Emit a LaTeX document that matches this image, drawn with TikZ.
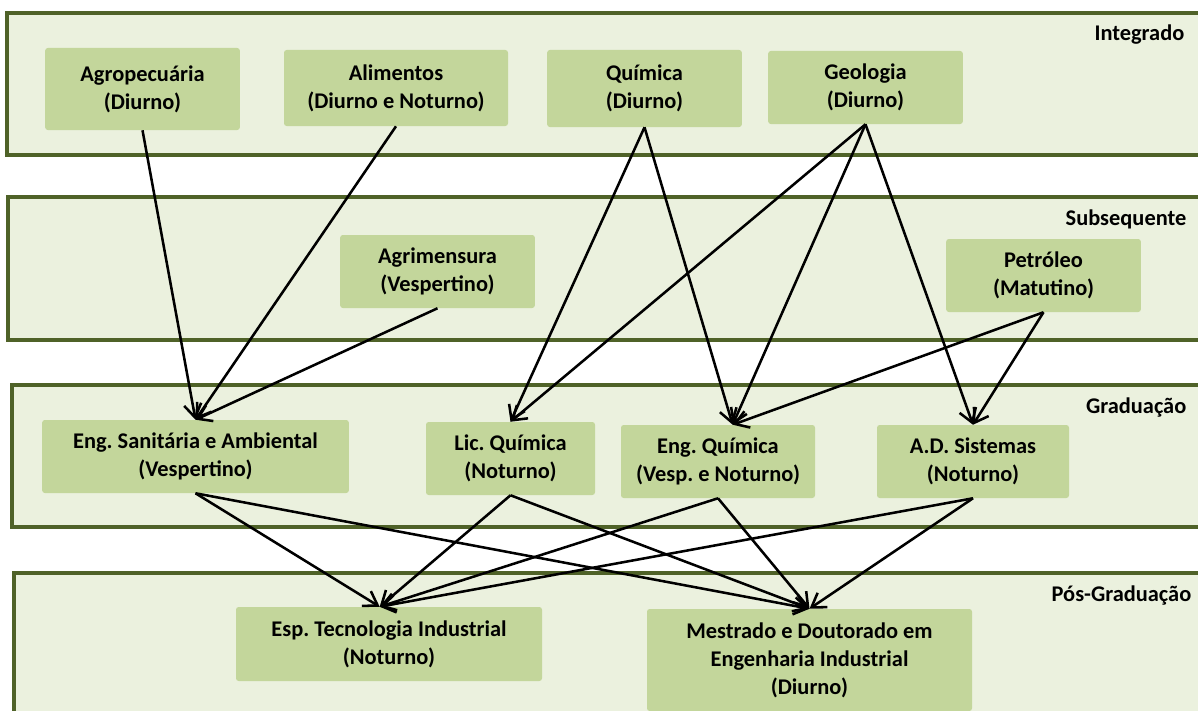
\documentclass[tikz,border=0pt]{standalone}
\usepackage{fontspec}
\setmainfont{Carlito}
\usetikzlibrary{arrows.meta}
\definecolor{bandfill}{HTML}{EBF1DE}
\definecolor{bandline}{HTML}{4F6228}
\definecolor{boxfill}{HTML}{C3D69B}
\frenchspacing
\begin{document}
\begin{tikzpicture}[x=0.75pt,y=-0.75pt,font=\bfseries\fontsize{16.8}{21}\selectfont,
	band/.style={draw=bandline,line width=3.3pt,fill=bandfill},
	course/.style={fill=boxfill,rounded corners=2pt,align=center,inner sep=0pt},
	link/.style={-{Straight Barb[length=10pt,width=13pt]},line width=1.9pt}]
	\clip (0,0) rectangle (1198,710);
	\fill[white] (0,0) rectangle (1198,710);

	%bands
	\draw[band] (7,13) rectangle (1215,155); %Integrado
	\draw[band] (8,197) rectangle (1215,340); %Subsequente
	\draw[band] (12,385) rectangle (1215,527); %Graduacao
	\draw[band] (14,573) rectangle (1215,730); %Pos

	%band labels
	\node[anchor=east] (lint) at (1189,35) {Integrado};
	\node[anchor=east] (lsub) at (1191,219) {Subsequente};
	\node[anchor=east] (lgra) at (1191,408) {Graduação};
	\node[anchor=east] (lpos) at (1196,596) {Pós-Graduação};

	%Integrado
	\node[course,minimum width=146pt,minimum height=61.5pt] (agro) at (142.5,89) {Agropecuária\\(Diurno)};
	\node[course,minimum width=168pt,minimum height=57pt] (alim) at (396,88) {Alimentos\\(Diurno e Noturno)};
	\node[course,minimum width=146pt,minimum height=57.75pt] (quim) at (644.5,88.5) {Química\\(Diurno)};
	\node[course,minimum width=146pt,minimum height=54.75pt] (geo) at (865.5,87.5) {Geologia\\(Diurno)};

	%Subsequente
	\node[course,minimum width=146pt,minimum height=54.75pt] (agrim) at (437.5,271.5) {Agrimensura\\(Vespertino)};
	\node[course,minimum width=146pt,minimum height=54.75pt] (petro) at (1043.5,275.5) {Petróleo\\(Matutino)};

	%Graduacao
	\node[course,minimum width=230pt,minimum height=54.75pt] (engsan) at (195.5,456.5) {Eng. Sanitária e Ambiental\\(Vespertino)};
	\node[course,minimum width=126.75pt,minimum height=54.75pt] (licq) at (510.5,458.5) {Lic. Química\\(Noturno)};
	\node[course,minimum width=145.5pt,minimum height=54.75pt] (engq) at (718,461.5) {Eng. Química\\(Vesp. e Noturno)};
	\node[course,minimum width=144pt,minimum height=54.75pt] (ads) at (973,461.5) {A.D. Sistemas\\(Noturno)};

	%Pos-Graduacao
	\node[course,minimum width=229.5pt,minimum height=55.5pt] (esp) at (389,644) {Esp. Tecnologia Industrial\\(Noturno)};
	\node[course,minimum width=243.75pt,minimum height=76.5pt] (mest) at (809.5,660) {Mestrado e Doutorado em\\Engenharia Industrial\\(Diurno)};

	%arrows into Graduacao
	\draw[link] (agro.south) -- (engsan.north);
	\draw[link] (alim.south) -- (engsan.north);
	\draw[link] (agrim.south) -- (engsan.north);
	\draw[link] (quim.south) -- (licq.north);
	\draw[link] (quim.south) -- ([xshift=11pt]engq.north);
	\draw[link] (geo.south) -- (licq.north);
	\draw[link] (geo.south) -- ([xshift=11pt]engq.north);
	\draw[link] (geo.south) -- (ads.north);
	\draw[link] (petro.south) -- ([xshift=11pt]engq.north);
	\draw[link] (petro.south) -- (ads.north);

	%arrows into Pos-Graduacao
	\draw[link] (engsan.south) -- ([xshift=-7pt]esp.north);
	\draw[link] (engsan.south) -- (mest.north);
	\draw[link] (licq.south) -- ([xshift=-7pt]esp.north);
	\draw[link] (licq.south) -- (mest.north);
	\draw[link] (engq.south) -- ([xshift=-7pt]esp.north);
	\draw[link] (engq.south) -- (mest.north);
	\draw[link] (ads.south) -- ([xshift=-7pt]esp.north);
	\draw[link] (ads.south) -- (mest.north);
\end{tikzpicture}
\end{document}
